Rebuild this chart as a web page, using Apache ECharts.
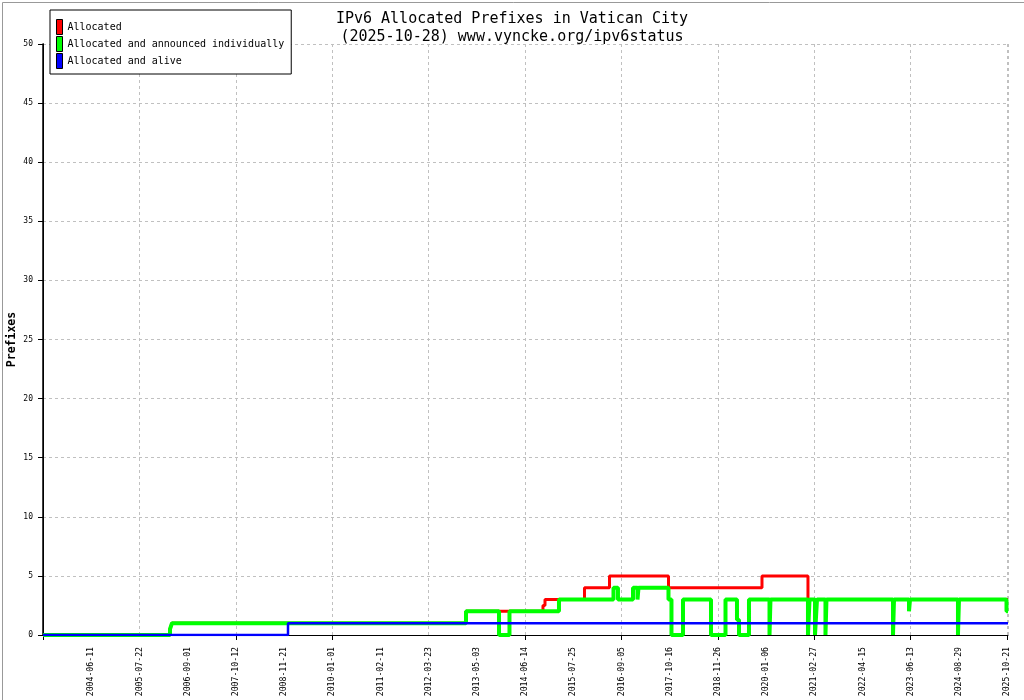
<!DOCTYPE html>
<html>
<head>
<meta charset="utf-8">
<script src="https://cdn.jsdelivr.net/npm/echarts@6/dist/echarts.min.js"></script>
<style>
html,body{margin:0;padding:0;background:#fff;}
#c{width:1024px;height:700px;}
</style>
</head>
<body>
<div id="c"></div>
<script>
// x positions are expressed in "tick-label index" units (labels are evenly spaced samples)
const xTickLabels = ['', '2004-06-11', '2005-07-22', '2006-09-01', '2007-10-12', '2008-11-21',
  '2010-01-01', '2011-02-11', '2012-03-23', '2013-05-03', '2014-06-14', '2015-07-25',
  '2016-09-05', '2017-10-16', '2018-11-26', '2020-01-06', '2021-02-27', '2022-04-15',
  '2023-06-13', '2024-08-29', '2025-10-21'];
const xMax = 20.021;
const yTicks = [0, 5, 10, 15, 20, 25, 30, 35, 40, 45, 50];
const majorTickPositions = [0, 4, 6, 10, 12, 14, 16, 18, 20];

const seriesNames = ['Allocated', 'Allocated and announced individually', 'Allocated and alive'];

// [position, value] change points: value holds until the next position
const allocated = [[0,0],[2.635,0.5],[2.676,1],[8.776,2],[10.373,2.5],[10.415,3],[11.234,4],
  [11.753,5],[12.977,4],[14.917,5],[15.871,3],[20.021,3]];

const announced = [[0,0],[2.635,0.5],[2.676,1],[8.776,2],[9.461,0],[9.678,2],[10.705,3],
  [11.836,4],[11.929,3],[12.241,4],[12.334,3],[12.355,4],[12.977,3],[13.039,0],[13.278,3],
  [13.859,0],[14.160,3],[14.398,1.3],[14.440,0],[14.647,3],[15.073,0],[15.093,3],[15.871,0],
  [15.903,3],[16.017,0],[16.058,3],[16.234,0],[16.255,3],[17.635,0],[17.656,3],[17.967,2],
  [17.988,3],[18.983,0],[19.004,3],[19.990,2],[20.021,2]];

const alive = [[0,0],[5.083,1],[20.021,1]];

const colors = ['#ff0000', '#00ff00', '#0000ff'];
const widths = [3, 4, 2.5];

const mono = 'DejaVu Sans Mono';
const chart = echarts.init(document.getElementById('c'), null, {renderer: 'canvas'});

chart.setOption({
  animation: false,
  backgroundColor: '#fff',
  title: {
    text: 'IPv6 Allocated Prefixes in Vatican City\n(2025-10-28) www.vyncke.org/ipv6status',
    left: 'center', top: 5,
    textStyle: {fontFamily: mono, fontSize: 15, fontWeight: 'normal', color: '#000', lineHeight: 18}
  },
  legend: {
    data: seriesNames,
    orient: 'vertical', left: 50, top: 10,
    itemWidth: 6, itemHeight: 15, itemGap: 1,
    padding: [9, 7, 5, 6],
    icon: 'rect',
    backgroundColor: '#fff', borderColor: '#000', borderWidth: 1,
    itemStyle: {borderColor: '#000', borderWidth: 1},
    textStyle: {fontFamily: mono, fontSize: 10, color: '#000'},
    z: 20
  },
  grid: {left: 43, right: 16, top: 44, bottom: 65, containLabel: false, outerBoundsMode: 'none'},
  xAxis: [
    {
      type: 'value', min: 0, max: xMax, interval: 1, position: 'bottom',
      axisLine: {show: true, lineStyle: {color: '#000', width: 1}},
      axisTick: {show: false}, splitLine: {show: false},
      axisLabel: {
        rotate: 90, fontFamily: mono, fontSize: 8.2, color: '#000', margin: 12,
        showMaxLabel: false,
        formatter: function (v) {
          const i = Math.round(v);
          if (Math.abs(v - i) > 1e-6) return '';
          return xTickLabels[i] || '';
        }
      }
    },
    {
      type: 'value', min: 0, max: xMax, interval: 2, position: 'bottom',
      axisLine: {show: false}, axisTick: {show: false}, axisLabel: {show: false},
      splitLine: {show: true, lineStyle: {color: '#c0c0c0', type: [3, 3], width: 1}}
    },
    {
      type: 'value', min: 0, max: xMax, position: 'bottom',
      axisLine: {show: false}, axisLabel: {show: false}, splitLine: {show: false},
      axisTick: {show: true, length: 5, lineStyle: {color: '#000', width: 1}, customValues: majorTickPositions}
    }
  ],
  yAxis: [
    {
      type: 'value', min: yTicks[0], max: yTicks[yTicks.length - 1], interval: 5,
      name: 'Prefixes', nameLocation: 'middle', nameGap: 25, nameMoveOverlap: false,
      nameTextStyle: {fontFamily: mono, fontSize: 11.5, fontWeight: 'bold', color: '#000'},
      axisLine: {show: true, lineStyle: {color: '#000', width: 1}},
      axisTick: {show: true, length: 5, lineStyle: {color: '#000'}},
      axisLabel: {fontFamily: mono, fontSize: 8, color: '#000', margin: 10},
      splitLine: {show: true, lineStyle: {color: '#c0c0c0', type: [3, 3], width: 1}}
    },
    {
      type: 'value', min: 0, max: 50, position: 'right',
      axisLine: {show: true, lineStyle: {color: '#000', width: 1.5}},
      axisTick: {show: false}, axisLabel: {show: false}, splitLine: {show: false}
    }
  ],
  series: [allocated, announced, alive].map(function (d, k) {
    return {
      name: seriesNames[k], type: 'line', step: 'end', data: d,
      xAxisIndex: 0, yAxisIndex: 0,
      showSymbol: false, symbol: 'none',
      color: colors[k],
      itemStyle: {color: colors[k]},
      lineStyle: {color: colors[k], width: widths[k]},
      z: 2 + k
    };
  }),
  graphic: [{
    type: 'rect', left: 0, top: 0, z: 100, silent: true,
    shape: {x: 0, y: 0, width: 1023, height: 699},
    style: {fill: 'none', stroke: '#999', lineWidth: 1}
  }]
});
</script>
</body>
</html>
